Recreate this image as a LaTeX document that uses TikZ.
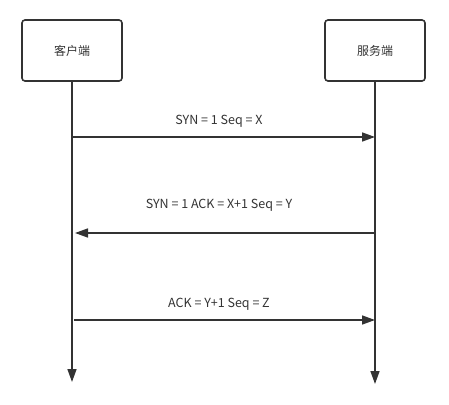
\documentclass[tikz,border=0pt]{standalone}
\usepackage{fontspec}
\setmainfont{Noto Sans CJK SC}
\usetikzlibrary{positioning, arrows.meta}

\definecolor{linegray}{HTML}{333333}

\begin{document}
\begin{tikzpicture}[x=1pt, y=-1pt,
    endbox/.style={draw=linegray, line width=1.6pt, rounded corners=3pt,
        minimum width=100pt, minimum height=61pt, text=linegray,
        font=\fontsize{12}{14}\selectfont},
    lifeline/.style={draw=linegray, line width=1.6pt, -{Triangle[length=13pt, width=9pt]}},
    msg/.style={draw=linegray, line width=1.6pt, -{Triangle[length=13pt, width=9pt]}},
    msglabel/.style={text=linegray, font=\fontsize{12.5}{14}\selectfont, inner sep=0pt}]
    \useasboundingbox (0,0) rectangle (449,404);

    % draw the two end boxes
    \node[endbox] (client) at (72,50.5) {客户端};
    \node[endbox] (server) at (375,50.5) {服务端};

    % draw the life lines
    \coordinate (clientend) at (client.south |- 0,382);
    \coordinate (serverend) at (server.south |- 0,384);
    \draw[lifeline] (client.south) -- (clientend);
    \draw[lifeline] (server.south) -- (serverend);

    % points on the life lines
    \foreach \y/\name in {137/syn, 233/synack, 320/ack}{
        \coordinate (c\name) at (client.south |- 0,\y);
        \coordinate (s\name) at (server.south |- 0,\y);
    }

    % draw the messages
    \draw[msg] (csyn) -- (ssyn);
    \draw[msg] (ssynack) -- ([xshift=3pt]csynack);
    \draw[msg] ([xshift=2pt]cack) -- (sack);

    % message labels
    \foreach \y/\name/\descr in {121/syn/SYN = 1 Seq = X, 205/synack/SYN = 1 ACK = X+1 Seq = Y, 304/ack/ACK = Y+1 Seq = Z}
        \node[msglabel] (\name label) at (219,\y) {\descr};

\end{tikzpicture}
\end{document}
